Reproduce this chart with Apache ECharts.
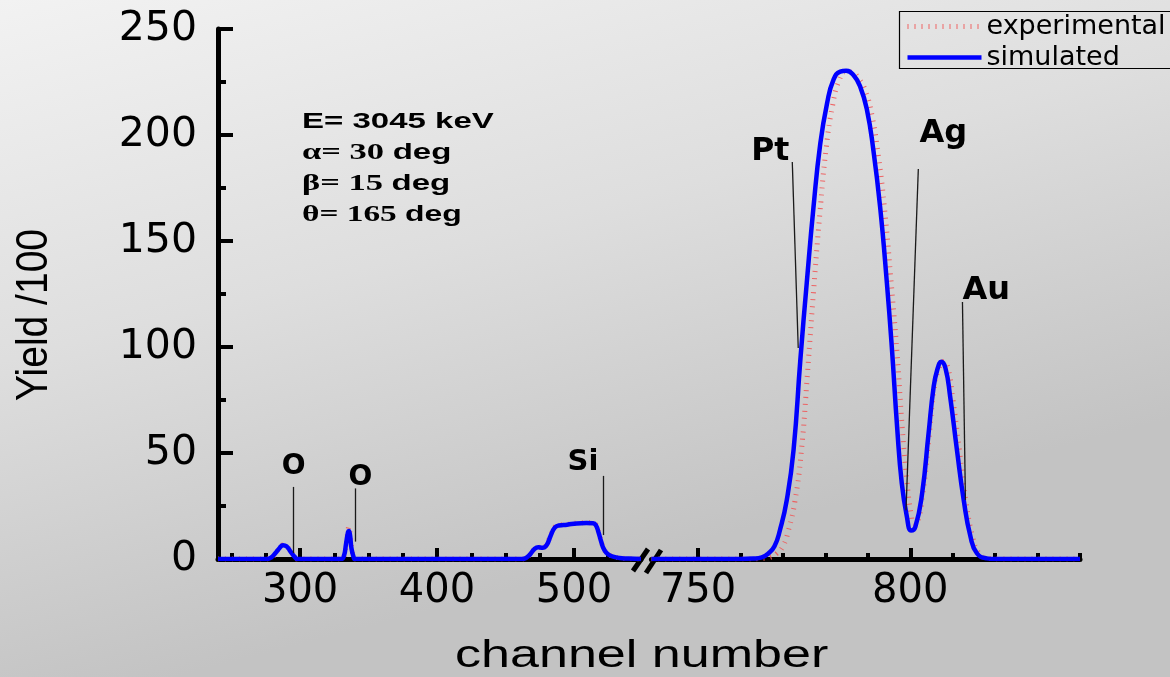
<!DOCTYPE html>
<html>
<head>
<meta charset="utf-8">
<script src="https://cdn.jsdelivr.net/npm/echarts@6/dist/echarts.min.js"></script>
<style>
  html, body { margin: 0; padding: 0; }
  #chart { width: 1170px; height: 677px; }
</style>
</head>
<body>
<div id="chart"></div>
<script>
// RBS spectrum: yield (/100) vs channel number, broken channel axis.

// Low-channel segment (O, O, Si)
const chLeft = [240, 270, 276, 279, 282, 285, 287.5, 290, 293, 296, 298,
  330, 332, 333.5, 335, 335.6, 336.5, 337.5, 339, 340,
  462, 465, 468, 471, 474, 477, 480, 483, 486, 489, 495, 502, 509, 514, 516, 518, 520, 522, 525, 530, 535, 540, 549];
const simLeft = [0, 0, 0, 0.8, 2.8, 5.2, 6.5, 6, 3.5, 1, 0,
  0, 1.5, 7, 12.8, 13.2, 11, 5, 1, 0,
  0, 0.5, 2.2, 4.6, 5.5, 5.3, 6.5, 11, 14.8, 15.8, 16.2, 16.8, 17.0, 16.9, 16, 12.5, 8, 4.5, 2.2, 0.9, 0.4, 0.2, 0];
const expLeft = [0, 0, 0, 0.6, 2.6, 5.2, 6.6, 6.1, 3.6, 1.1, 0,
  0, 1.2, 6.5, 13.5, 15.2, 12, 5.5, 1.2, 0,
  0, 0.4, 2.1, 4.5, 5.5, 5.4, 6.8, 11.5, 15, 15.9, 16.3, 16.9, 17.1, 16.9, 16.2, 12.8, 8.3, 4.6, 2.3, 1, 0.4, 0.2, 0];

// High-channel segment (Pt, Ag, Au)
const chRight = [739, 760, 763, 765, 766.5, 768, 769.3, 770.9, 772.5, 774.1,
  775.6, 777.2, 778.8, 780.4, 781.9, 783.5, 784.9, 786.6, 788.2, 789.8,
  791.3, 792.9, 794.5, 795.7, 796.9, 798, 799.2, 800.2, 801.2, 802.8,
  804.3, 805.5, 806.4, 807.3, 808.3, 809.4, 811, 812.6, 814.2, 815.7,
  818, 820, 840];
const simRight = [0, 0, 0.2, 0.8, 2.5, 6, 13.7, 27.8, 51.4, 94,
  130, 166, 196, 215, 226, 229.9, 230.3, 228.3, 222.8, 211.8,
  193, 166, 130, 98.6, 62.4, 35.7, 20, 13.5, 15.2, 31,
  59, 81, 89.5, 93, 90, 76.6, 51.4, 27.8, 10.5, 2.7,
  0.3, 0, 0];
const chExpRight = [739, 762, 765, 767, 768.5, 770, 771.3, 772.8, 774.3, 775.8,
  777.2, 778.7, 780.2, 781.7, 783.2, 784.8, 786.3, 787.9, 789.5, 791,
  792.5, 794, 795.6, 796.9, 798.1, 799.2, 800.2, 800.9, 801.6, 802.9,
  804.4, 805.6, 806.6, 807.9, 808.9, 810, 811.6, 813.1, 814.7, 816.2,
  818.5, 821, 840];
const expRight = [0, 0, 0.2, 0.8, 2.5, 6, 13.5, 27, 50, 88,
  126, 163, 194, 214, 225.5, 229.8, 229.6, 226.5, 220.5, 209,
  190, 164, 128, 97, 62, 37, 21, 16.5, 17, 30,
  57, 80, 89, 93.2, 90, 76, 51, 27.5, 10.5, 2.7,
  0.3, 0, 0];

// Axis ticks
const leftMajorTicks = [300, 400, 500];
const leftMinorTicks = [250, 275, 325, 350, 375, 425, 450, 475, 525];
const rightMajorTicks = [750, 800];
const rightMinorTicks = [760, 770, 780, 790, 810, 820, 830, 840];

// Element labels: [text, channel, yield] and leader lines [channel, yield] -> [channel, yield]
const leftLabels = [['O', 295.2, 43.4], ['O', 344, 38.2], ['Si', 506.6, 45.5]];
const leftLeaders = [[[294.7, 34], [294.7, 2.8]], [[340.5, 33.3], [340.5, 8.2]], [[521.7, 39.2], [521.7, 11.3]]];
const rightLabels = [['Pt', 767, 192], ['Ag', 807.8, 200.7], ['Au', 817.9, 126.7]];
const rightLeaders = [[[772.2, 187.3], [773.6, 99.5]], [[801.9, 184], [799.0, 23]], [[812.3, 121.2], [813, 27.8]]];

const zip = (xs, ys) => xs.map((x, i) => [x, ys[i]]);

const BLACK = '#000';
const tickFont = 'DejaVu Sans';

function leaderMarks(leaders) {
  return {
    silent: true,
    symbol: ['none', 'none'],
    lineStyle: { color: '#1a1a1a', width: 1.3, type: 'solid' },
    label: { show: false },
    data: leaders.map(l => [{ coord: l[0] }, { coord: l[1] }])
  };
}
function labelMarks(labels, sizes) {
  return {
    silent: true,
    symbol: 'circle',
    symbolSize: 1,
    itemStyle: { color: 'rgba(0,0,0,0)' },
    label: {
      show: true, position: 'inside', formatter: '{b}',
      color: BLACK, fontFamily: 'DejaVu Sans', fontWeight: 'bold'
    },
    data: labels.map((l, i) => ({
      name: l[0], coord: [l[1], l[2]], value: l[0],
      label: { fontSize: sizes[i] }
    }))
  };
}

const simStyle = { color: '#0000ff', width: 4.5 };
const expStyle = { color: 'rgba(240,88,88,0.9)', width: 5, type: [1, 6] };
const SMOOTH = 0.5;

const chart = echarts.init(document.getElementById('chart'));
chart.setOption({
  animation: false,
  backgroundColor: {
    type: 'linear', x: 0, y: 0, x2: 0.15, y2: 1,
    colorStops: [
      { offset: 0, color: '#f2f2f2' },
      { offset: 0.5, color: '#dedede' },
      { offset: 1, color: '#c3c3c3' }
    ]
  },
  legend: {
    orient: 'vertical',
    left: 899, top: 11,
    padding: [2, 0, 0, 6],
    itemWidth: 74, itemHeight: 14, itemGap: 4,
    borderWidth: 0,
    itemStyle: { opacity: 0 },
    lineStyle: { width: 'inherit' },
    textStyle: { fontFamily: 'DejaVu Sans', fontSize: 27, color: BLACK, lineHeight: 26 },
    data: ['experimental', 'simulated']
  },
  grid: [
    { left: 218, top: 29, width: 423, height: 530 },
    { left: 651.4, top: 29, width: 428.6, height: 530 }
  ],
  xAxis: [
    {
      gridIndex: 0, type: 'value', min: 240, max: 549, position: 'bottom',
      axisLine: { show: true, onZero: false, lineStyle: { color: BLACK, width: 5 } },
      axisTick: { show: true, inside: true, length: 11, customValues: leftMajorTicks, lineStyle: { color: BLACK, width: 4 } },
      axisLabel: { customValues: leftMajorTicks, fontFamily: tickFont, fontSize: 40, color: BLACK, margin: 13 },
      splitLine: { show: false }
    },
    {
      gridIndex: 0, type: 'value', min: 240, max: 549, position: 'bottom',
      axisLine: { show: false, onZero: false },
      axisTick: { show: true, inside: true, length: 6, customValues: leftMinorTicks, lineStyle: { color: BLACK, width: 4 } },
      axisLabel: { show: false },
      splitLine: { show: false }
    },
    {
      gridIndex: 1, type: 'value', min: 739, max: 840, position: 'bottom',
      axisLine: { show: true, onZero: false, lineStyle: { color: BLACK, width: 5 } },
      axisTick: { show: true, inside: true, length: 11, customValues: rightMajorTicks, lineStyle: { color: BLACK, width: 4 } },
      axisLabel: { customValues: rightMajorTicks, fontFamily: tickFont, fontSize: 40, color: BLACK, margin: 13 },
      splitLine: { show: false }
    },
    {
      gridIndex: 1, type: 'value', min: 739, max: 840, position: 'bottom',
      axisLine: { show: false, onZero: false },
      axisTick: { show: true, inside: true, length: 6, customValues: rightMinorTicks, lineStyle: { color: BLACK, width: 4 } },
      axisLabel: { show: false },
      splitLine: { show: false }
    }
  ],
  yAxis: [
    {
      gridIndex: 0, type: 'value', min: 0, max: 250, interval: 50,
      axisLine: { show: true, lineStyle: { color: BLACK, width: 5 } },
      axisTick: { show: true, inside: true, length: 15, lineStyle: { color: BLACK, width: 4 } },
      minorTick: { show: true, splitNumber: 2, length: 8, lineStyle: { color: BLACK, width: 4 } },
      axisLabel: { fontFamily: tickFont, fontSize: 41, color: BLACK, margin: 21 },
      splitLine: { show: false }
    },
    {
      gridIndex: 1, type: 'value', min: 0, max: 250, interval: 50,
      show: false
    }
  ],
  graphic: [
    // legend frame, running off the right edge
    { type: 'rect', shape: { x: 899.5, y: 11.5, width: 290, height: 57 }, style: { fill: 'none', stroke: BLACK, lineWidth: 1.2 }, z: 10 },
    // axis break marks
    { type: 'line', shape: { x1: 633, y1: 571, x2: 648, y2: 549 }, style: { stroke: BLACK, lineWidth: 5 } },
    { type: 'line', shape: { x1: 646, y1: 573, x2: 661, y2: 550 }, style: { stroke: BLACK, lineWidth: 5 } },
    // axis titles
    {
      type: 'text', x: 35, y: 315, rotation: Math.PI / 2, scaleY: 1.15,
      style: { text: 'Yield /100', font: '39px "Liberation Sans"', fill: BLACK, align: 'center', verticalAlign: 'middle' }
    },
    {
      type: 'text', x: 455, y: 657, scaleX: 1.37,
      style: { text: 'channel number', font: '38px "Liberation Sans"', fill: BLACK, align: 'left', verticalAlign: 'middle' }
    },
    // measurement conditions
    {
      type: 'text', x: 302, y: 122, scaleX: 1.5,
      style: { text: 'E= 3045 keV', font: 'bold 22px "Liberation Sans"', fill: BLACK, align: 'left', verticalAlign: 'middle' }
    },
    {
      type: 'text', x: 302, y: 153, scaleX: 1.5,
      style: {
        text: '{g|α= 30 }{s|deg}', align: 'left', verticalAlign: 'middle',
        rich: {
          g: { fontFamily: 'Liberation Serif', fontWeight: 'bold', fontSize: 23, fill: BLACK, color: BLACK },
          s: { fontFamily: 'Liberation Sans', fontWeight: 'bold', fontSize: 22, fill: BLACK, color: BLACK }
        }
      }
    },
    {
      type: 'text', x: 302, y: 184, scaleX: 1.5,
      style: {
        text: '{g|β= 15 }{s|deg}', align: 'left', verticalAlign: 'middle',
        rich: {
          g: { fontFamily: 'Liberation Serif', fontWeight: 'bold', fontSize: 23, fill: BLACK, color: BLACK },
          s: { fontFamily: 'Liberation Sans', fontWeight: 'bold', fontSize: 22, fill: BLACK, color: BLACK }
        }
      }
    },
    {
      type: 'text', x: 302, y: 215, scaleX: 1.45,
      style: {
        text: '{g|θ= 165 }{s|deg}', align: 'left', verticalAlign: 'middle',
        rich: {
          g: { fontFamily: 'Liberation Serif', fontWeight: 'bold', fontSize: 23, fill: BLACK, color: BLACK },
          s: { fontFamily: 'Liberation Sans', fontWeight: 'bold', fontSize: 22, fill: BLACK, color: BLACK }
        }
      }
    }
  ],
  series: [
    {
      name: 'experimental', type: 'line', xAxisIndex: 0, yAxisIndex: 0,
      data: zip(chLeft, expLeft), showSymbol: false, symbol: 'none',
      smooth: SMOOTH, lineStyle: expStyle, itemStyle: { color: expStyle.color }, z: 2
    },
    {
      name: 'simulated', type: 'line', xAxisIndex: 0, yAxisIndex: 0,
      data: zip(chLeft, simLeft), showSymbol: false, symbol: 'none',
      smooth: SMOOTH, lineStyle: simStyle, itemStyle: { color: simStyle.color }, z: 3,
      markLine: leaderMarks(leftLeaders),
      markPoint: labelMarks(leftLabels, [28, 28, 29])
    },
    {
      name: 'experimental', type: 'line', xAxisIndex: 2, yAxisIndex: 1,
      data: zip(chExpRight, expRight), showSymbol: false, symbol: 'none',
      smooth: SMOOTH, lineStyle: expStyle, itemStyle: { color: expStyle.color }, z: 2
    },
    {
      name: 'simulated', type: 'line', xAxisIndex: 2, yAxisIndex: 1,
      data: zip(chRight, simRight), showSymbol: false, symbol: 'none',
      smooth: SMOOTH, lineStyle: simStyle, itemStyle: { color: simStyle.color }, z: 3,
      markLine: leaderMarks(rightLeaders),
      markPoint: labelMarks(rightLabels, [31.5, 32, 32])
    }
  ]
});
</script>
</body>
</html>
